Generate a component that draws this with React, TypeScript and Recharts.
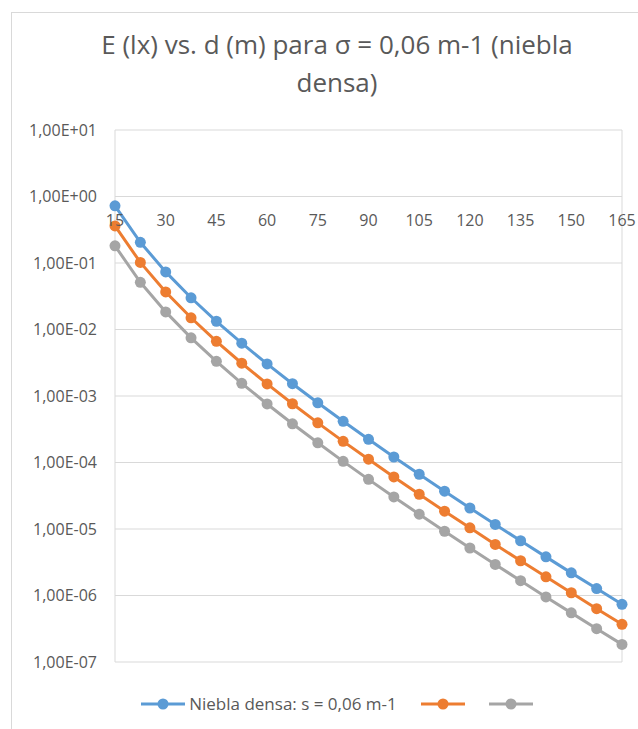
import { LineChart, Line, XAxis, YAxis, CartesianGrid, Legend, ReferenceDot } from "recharts"

// distance d (m)
const distances = [15, 22.5, 30, 37.5, 45, 52.5, 60, 67.5, 75, 82.5, 90, 97.5, 105, 112.5, 120, 127.5, 135, 142.5, 150, 157.5, 165]

// E (lx)
const serieAzul = [0.723, 0.205, 0.0735, 0.03, 0.0133, 0.00622, 0.00304, 0.00153, 7.9e-4, 4.16e-4, 2.23e-4, 1.21e-4, 6.66e-5, 3.7e-5, 2.07e-5, 1.17e-5, 6.66e-6, 3.81e-6, 2.19e-6, 1.27e-6, 7.37e-7]
const serieNaranja = [0.361, 0.102, 0.0367, 0.015, 0.00664, 0.00311, 0.00152, 7.65e-4, 3.95e-4, 2.08e-4, 1.12e-4, 6.06e-5, 3.33e-5, 1.85e-5, 1.04e-5, 5.86e-6, 3.33e-6, 1.91e-6, 1.1e-6, 6.34e-7, 3.69e-7]
const serieGris = [0.181, 0.0512, 0.0184, 0.0075, 0.00332, 0.00155, 7.59e-4, 3.82e-4, 1.98e-4, 1.04e-4, 5.58e-5, 3.03e-5, 1.67e-5, 9.25e-6, 5.18e-6, 2.93e-6, 1.67e-6, 9.53e-7, 5.48e-7, 3.17e-7, 1.84e-7]

const seriesNames = ["Niebla densa: s = 0,06 m-1", "", ""]
const seriesColors = ["#5B9BD5", "#ED7D31", "#A5A5A5"]

const xTicks = [15, 30, 45, 60, 75, 90, 105, 120, 135, 150, 165]
const yTicks = [1e-7, 1e-6, 1e-5, 1e-4, 1e-3, 1e-2, 1e-1, 1, 10]
const yTickLabels = ["1,00E-07", "1,00E-06", "1,00E-05", "1,00E-04", "1,00E-03", "1,00E-02", "1,00E-01", "1,00E+00", "1,00E+01"]

const data = distances.map((d, i) => ({
  d,
  s1: serieAzul[i],
  s2: serieNaranja[i],
  s3: serieGris[i],
}))

const FONT = "'Open Sans', sans-serif"
const TEXT = "#595959"

const formatY = (v: number) => {
  const i = yTicks.findIndex((t) => Math.abs(Math.log10(t) - Math.log10(v)) < 1e-6)
  return i >= 0 ? yTickLabels[i] : ""
}

function LegendIcon({ color }: { color: string }) {
  return (
    <svg width={44} height={12}>
      <line x1={0} y1={6} x2={44} y2={6} stroke={color} strokeWidth={3} />
      <circle cx={22} cy={6} r={5.5} fill={color} />
    </svg>
  )
}

function ChartLegend() {
  return (
    <div style={{ display: "flex", justifyContent: "center", alignItems: "center", fontFamily: FONT, fontSize: 17, color: TEXT }}>
      {seriesNames.map((name, i) => (
        <div key={i} style={{ display: "flex", alignItems: "center", marginLeft: i === 0 ? 0 : 24 }}>
          <LegendIcon color={seriesColors[i]} />
          {name && <span style={{ marginLeft: 4 }}>{name}</span>}
        </div>
      ))}
    </div>
  )
}

export default function App() {
  return (
    <div style={{ position: "fixed", left: 0, top: 0, width: 638, height: 729, overflow: "hidden", background: "#fff" }}>
      <div style={{ position: "absolute", left: 11, top: 12, width: 700, height: 800, border: "1px solid #d9d9d9" }} />
      <div
        style={{
          position: "absolute",
          left: 17,
          width: 640,
          top: 25,
          textAlign: "center",
          fontFamily: FONT,
          fontSize: 26,
          lineHeight: "38px",
          color: TEXT,
          whiteSpace: "nowrap",
        }}
      >
        E (lx) vs. d (m) para σ = 0,06 m-1 (niebla
        <br />
        densa)
      </div>
      <div style={{ position: "absolute", left: 0, top: 0 }}>
        <LineChart width={638} height={729} data={data} margin={{ top: 130, right: 16, bottom: 67, left: 15 }}>
          <CartesianGrid stroke="#d9d9d9" />
          <XAxis
            dataKey="d"
            type="number"
            domain={[15, 165]}
            ticks={xTicks}
            height={0}
            tick={false}
            axisLine={false}
            tickLine={false}
          />
          <YAxis
            scale="log"
            domain={[1e-7, 10]}
            ticks={yTicks}
            allowDataOverflow
            width={100}
            axisLine={false}
            tickLine={false}
            tickMargin={12}
            tickFormatter={formatY}
            tick={{ fill: TEXT, fontSize: 16, fontFamily: FONT }}
          />
          {xTicks.map((t) => (
            <ReferenceDot
              key={t}
              x={t}
              y={1}
              r={0}
              ifOverflow="visible"
              shape={() => <g />}
              label={{ value: String(t), position: "bottom", offset: 18, fill: TEXT, fontSize: 16, fontFamily: FONT }}
            />
          ))}
          {["s3", "s2", "s1"].map((key) => {
            const i = Number(key.slice(1)) - 1
            return (
              <Line
                key={key}
                dataKey={key}
                name={seriesNames[i]}
                stroke={seriesColors[i]}
                strokeWidth={3}
                dot={{ r: 5.5, fill: seriesColors[i], stroke: seriesColors[i], strokeWidth: 0 }}
                activeDot={false}
                isAnimationActive={false}
              />
            )
          })}
          <Legend
            layout="horizontal"
            verticalAlign="middle"
            align="center"
            content={() => <ChartLegend />}
            wrapperStyle={{ top: 692, left: 27, width: 620 }}
          />
        </LineChart>
      </div>
    </div>
  )
}
